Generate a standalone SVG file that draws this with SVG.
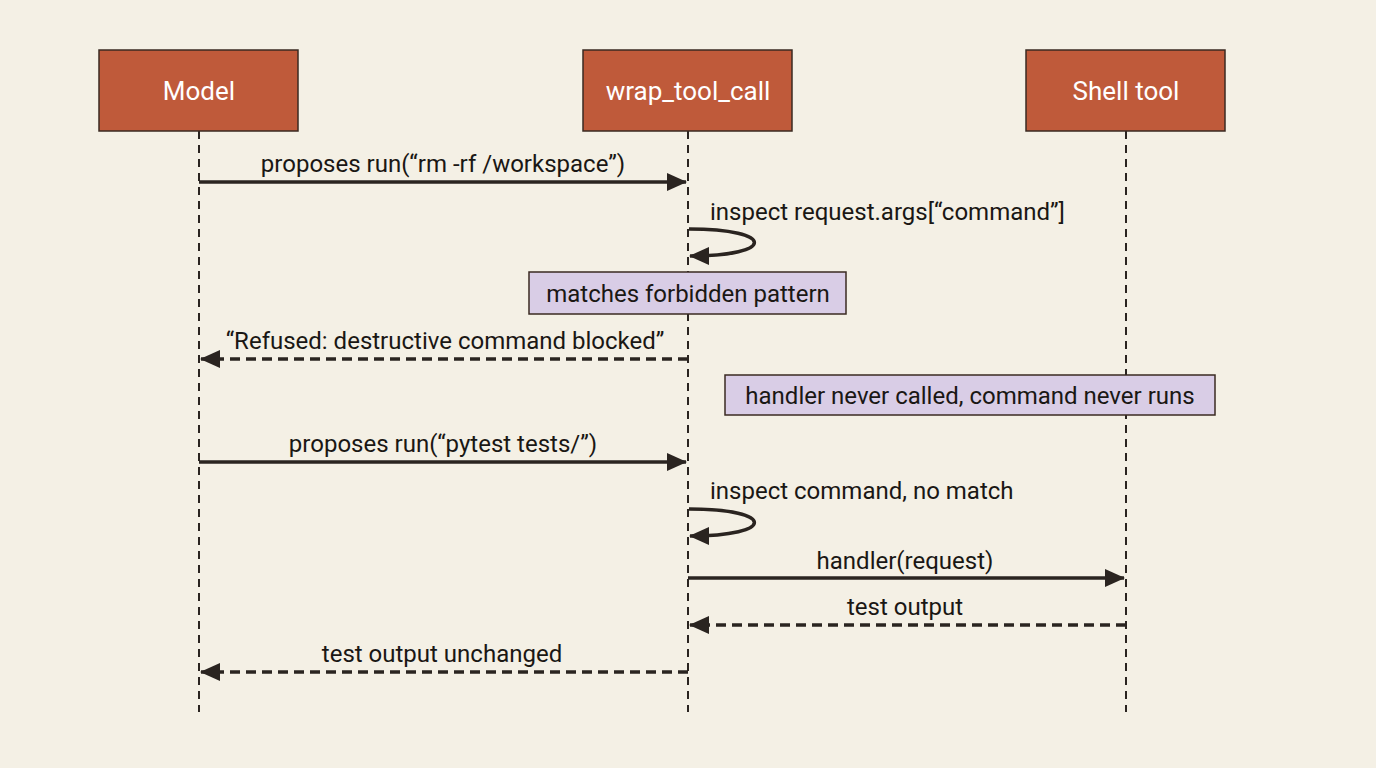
<svg xmlns="http://www.w3.org/2000/svg" width="1376" height="768" viewBox="0 0 1376 768">
<style>
.box{fill:#bf5a3a;stroke:#3a2a22;stroke-width:1.5}
.bt{font-family:Roboto,"Liberation Sans",sans-serif;font-size:26px;fill:#fff;text-anchor:middle}
.life{stroke:#2a2420;stroke-width:2;stroke-dasharray:8,6}
.msg{stroke:#2a2420;stroke-width:3.5;fill:none}
.dash{stroke-dasharray:10,6}
.t{font-family:Roboto,"Liberation Sans",sans-serif;font-size:24px;fill:#1a1714}
.note{fill:#d9cde6;stroke:#3a2a22;stroke-width:1.5}
</style>
<defs>
<marker id="a" markerWidth="20" markerHeight="20" refX="19" refY="10" orient="auto" markerUnits="userSpaceOnUse" viewBox="0 0 20 20"><path d="M0,1 L20,10 L0,19 z" fill="#2a2420"/></marker>
</defs>
<rect width="1376" height="768" fill="#f4f0e5"/>
<g id="lifelines">
<line class="life" x1="199" y1="131" x2="199" y2="712"/>
<line class="life" x1="688" y1="131" x2="688" y2="712"/>
<line class="life" x1="1126" y1="131" x2="1126" y2="712"/>
</g>
<g id="model"><rect class="box" x="99" y="50" width="199" height="81"/><text class="bt" x="199" y="100">Model</text></g>
<g id="wrap"><rect class="box" x="583" y="50" width="209" height="81"/><text class="bt" x="688" y="100">wrap_tool_call</text></g>
<g id="shell"><rect class="box" x="1026" y="50" width="199" height="81"/><text class="bt" x="1126" y="100">Shell tool</text></g>
<g id="connectors">
<line class="msg" x1="199" y1="182" x2="686" y2="182" marker-end="url(#a)"/>
<text class="t" x="443" y="172" text-anchor="middle">proposes run(“rm -rf /workspace”)</text>
<path class="msg" d="M689,229 C776,229 776,256 690,256" marker-end="url(#a)"/>
<text class="t" x="710" y="220">inspect request.args[“command”]</text>
<line class="msg dash" x1="688" y1="359" x2="201" y2="359" marker-end="url(#a)"/>
<text class="t" x="445" y="349" text-anchor="middle">“Refused: destructive command blocked”</text>
<line class="msg" x1="199" y1="462" x2="686" y2="462" marker-end="url(#a)"/>
<text class="t" x="443" y="452" text-anchor="middle">proposes run(“pytest tests/”)</text>
<path class="msg" d="M689,509 C776,509 776,536 690,536" marker-end="url(#a)"/>
<text class="t" x="710" y="499">inspect command, no match</text>
<line class="msg" x1="688" y1="578" x2="1124" y2="578" marker-end="url(#a)"/>
<text class="t" x="905" y="569" text-anchor="middle">handler(request)</text>
<line class="msg dash" x1="1126" y1="625" x2="690" y2="625" marker-end="url(#a)"/>
<text class="t" x="905" y="615" text-anchor="middle">test output</text>
<line class="msg dash" x1="688" y1="672" x2="201" y2="672" marker-end="url(#a)"/>
<text class="t" x="442" y="662" text-anchor="middle">test output unchanged</text>
</g>
<g id="note1"><rect class="note" x="529" y="272" width="317" height="42"/><text class="t" x="688" y="302" text-anchor="middle">matches forbidden pattern</text></g>
<g id="note2"><rect class="note" x="725" y="375" width="490" height="40"/><text class="t" x="970" y="404" text-anchor="middle">handler never called, command never runs</text></g>
</svg>
